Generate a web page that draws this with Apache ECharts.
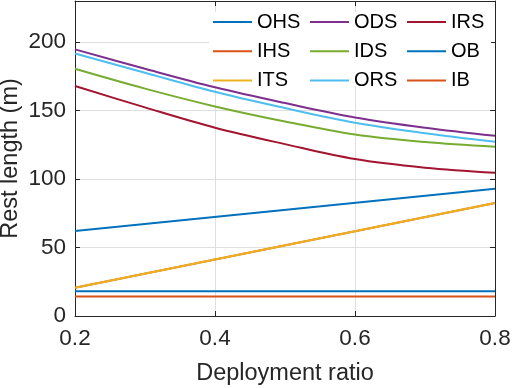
<!DOCTYPE html>
<html>
<head>
<meta charset="utf-8">
<script src="https://cdn.jsdelivr.net/npm/echarts@6/dist/echarts.min.js"></script>
<style>
  html, body { margin: 0; padding: 0; background: #fff; }
  #chart { width: 513px; height: 388px; }
</style>
</head>
<body>
<div id="chart"></div>
<script>
// deployment ratio samples
const ratio = [0.2, 0.3, 0.4, 0.5, 0.6, 0.7, 0.8]
const ratioEnds = [0.2, 0.8]

// curved series (read at each ratio)
const ods = [194.7, 180.5, 167, 155.5, 145, 137.5, 131.6]
const ors = [191.7, 177.6, 163.7, 151.8, 141.1, 133.5, 127.2]
const ids = [180.5, 166, 153, 142, 132.5, 127, 123.6]
const irs = [167.9, 152.3, 137.5, 125.5, 114.6, 108.3, 104.6]

// straight series (end points)
const ohs = [62, 92.9]
const ihs = [20.7, 82.5]
const its = [20.7, 82.5]
const ob = [18, 18]
const ib = [14.3, 14.3]

const yTicks = [0, 50, 100, 150, 200]

// legend columns, as in the figure
const legendCols = [['OHS', 'IHS', 'ITS'], ['ODS', 'IDS', 'ORS'], ['IRS', 'OB', 'IB']]

const pair = (xs, ys) => xs.map((x, i) => [x, ys[i]])

const ink = '#262626'
const fontFam = '"Liberation Sans", Arial, Helvetica, sans-serif'

function line(name, color, xs, ys, smooth) {
  return {
    name: name,
    type: 'line',
    data: pair(xs, ys),
    showSymbol: false,
    symbol: 'none',
    smooth: smooth ? 0.35 : false,
    lineStyle: { color: color, width: 2 },
    itemStyle: { color: color },
    emphasis: { disabled: true }
  }
}

function legendCol(names, left) {
  return {
    orient: 'vertical',
    left: left,
    top: 9,
    padding: [3, 0, 0, 0],
    icon: 'rect',
    itemWidth: 39,
    itemHeight: 2,
    itemGap: 9.3,
    textStyle: { fontSize: 20, lineHeight: 18, color: '#000', fontFamily: fontFam },
    data: names
  }
}

const chart = echarts.init(document.getElementById('chart'), null, { renderer: 'canvas' })

const option = {
  animation: false,
  textStyle: { fontFamily: fontFam },
  grid: { left: 75, right: 18, top: 1, bottom: 72, containLabel: false, outerBoundsMode: 'none' },
  // white legend box: hides grid lines, sits under the series
  graphic: [
    {
      type: 'rect',
      z: 1,
      silent: true,
      shape: { x: 209, y: 12, width: 282, height: 74 },
      style: { fill: '#fff' }
    }
  ],
  legend: [
    legendCol(legendCols[0], 213),
    legendCol(legendCols[1], 310),
    legendCol(legendCols[2], 407)
  ],
  xAxis: [
    {
      type: 'value',
      min: 0.2,
      max: 0.8,
      interval: 0.2,
      name: 'Deployment ratio',
      nameLocation: 'middle',
      nameGap: 46,
      nameTextStyle: { fontSize: 23.5, color: ink, fontFamily: fontFam },
      axisLine: { show: true, onZero: false, lineStyle: { color: ink, width: 1 } },
      axisTick: { show: true, inside: true, length: 5, lineStyle: { color: ink } },
      axisLabel: {
        margin: 11,
        fontSize: 22.5,
        color: ink,
        fontFamily: fontFam,
        formatter: v => v.toFixed(1)
      },
      splitLine: { show: true, lineStyle: { color: '#dfdfdf', width: 1 } }
    },
    {
      type: 'value',
      position: 'top',
      min: 0.2,
      max: 0.8,
      interval: 0.2,
      axisLine: { show: true, onZero: false, lineStyle: { color: ink, width: 1 } },
      axisTick: { show: true, inside: true, length: 5, lineStyle: { color: ink } },
      axisLabel: { show: false },
      splitLine: { show: false }
    }
  ],
  yAxis: [
    {
      type: 'value',
      min: 0,
      max: 230,
      interval: 50,
      name: 'Rest length (m)',
      nameLocation: 'middle',
      nameGap: 52,
      nameMoveOverlap: false,
      nameTextStyle: { fontSize: 23.5, color: ink, fontFamily: fontFam },
      axisLine: { show: true, onZero: false, lineStyle: { color: ink, width: 1 } },
      axisTick: { show: true, inside: true, length: 5, lineStyle: { color: ink } },
      axisLabel: {
        margin: 9,
        fontSize: 22.5,
        color: ink,
        fontFamily: fontFam,
        formatter: v => (yTicks.indexOf(v) >= 0 ? String(v) : '')
      },
      splitLine: { show: true, lineStyle: { color: '#dfdfdf', width: 1 } }
    },
    {
      type: 'value',
      position: 'right',
      min: 0,
      max: 230,
      interval: 50,
      axisLine: { show: true, onZero: false, lineStyle: { color: ink, width: 1 } },
      axisTick: { show: true, inside: true, length: 5, lineStyle: { color: ink } },
      axisLabel: { show: false },
      splitLine: { show: false }
    }
  ],
  series: [
    line('OHS', '#0072BD', ratioEnds, ohs, false),
    line('IHS', '#D95319', ratioEnds, ihs, false),
    line('ITS', '#EDB120', ratioEnds, its, false),
    line('ODS', '#7E2F8E', ratio, ods, true),
    line('IDS', '#77AC30', ratio, ids, true),
    line('ORS', '#4DBEEE', ratio, ors, true),
    line('IRS', '#A2142F', ratio, irs, true),
    line('OB', '#0072BD', ratioEnds, ob, false),
    line('IB', '#D95319', ratioEnds, ib, false)
  ]
}

chart.setOption(option)
</script>
</body>
</html>
